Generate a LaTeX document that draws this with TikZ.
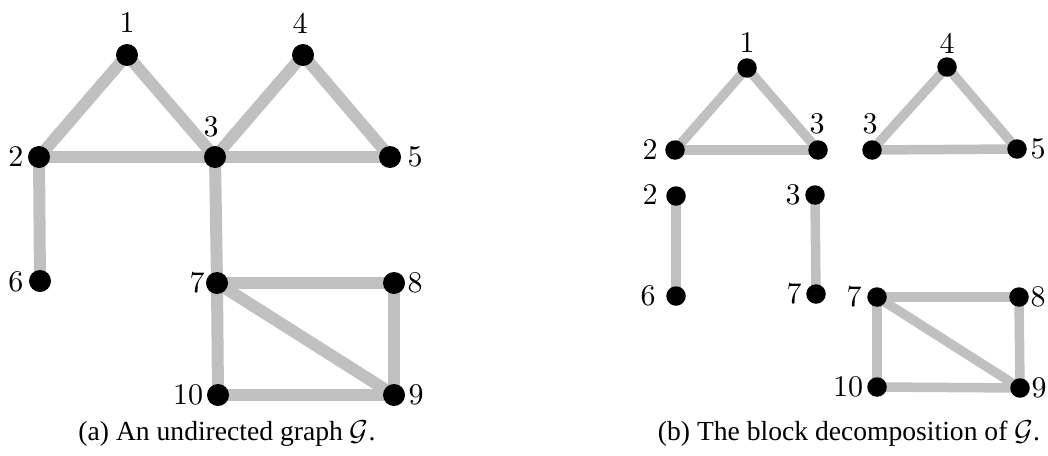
\documentclass[tikz,border=0pt]{standalone}
\usepackage{fontspec}
\usepackage{graphicx}
\usetikzlibrary{backgrounds}
\newfontfamily\capfont{Liberation Serif}
\definecolor{edgegray}{RGB}{192,192,192}
\newcommand{\vlabel}[1]{\scalebox{1.5}{\fontsize{10}{12}\selectfont #1}}
\begin{document}
\begin{tikzpicture}[x=0.5pt,y=-0.5pt,
  vtxA/.style={circle,fill=black,inner sep=0pt,minimum size=11pt},
  vtxB/.style={circle,fill=black,inner sep=0pt,minimum size=9.75pt},
  edgeA/.style={draw=edgegray,line width=6pt},
  edgeB/.style={draw=edgegray,line width=4.75pt},
  lbl/.style={inner sep=0pt},
  caption/.style={inner sep=0pt,anchor=base,font=\capfont\fontsize{13.8}{16}\selectfont}]
\useasboundingbox (0,0) rectangle (1048,455);

% ---- (a) the graph G ----
\node[vtxA] (a1) at (127,55) {};
\node[vtxA] (a2) at (39,157) {};
\node[vtxA] (a3) at (215,157) {};
\node[vtxA] (a4) at (303,55) {};
\node[vtxA] (a5) at (390,157) {};
\node[vtxA] (a6) at (40,281) {};
\node[vtxA] (a7) at (217,283) {};
\node[vtxA] (a8) at (394,283) {};
\node[vtxA] (a9) at (394,395) {};
\node[vtxA] (a10) at (218,395) {};

\node[lbl] (la1) at (127,23) {\vlabel{1}};
\node[lbl] (la2) at (16,157) {\vlabel{2}};
\node[lbl] (la3) at (211,127) {\vlabel{3}};
\node[lbl] (la4) at (300,23) {\vlabel{4}};
\node[lbl] (la5) at (415,157) {\vlabel{5}};
\node[lbl] (la6) at (16,282) {\vlabel{6}};
\node[lbl] (la7) at (197,283) {\vlabel{7}};
\node[lbl] (la8) at (415,283) {\vlabel{8}};
\node[lbl] (la9) at (416,395) {\vlabel{9}};
\node[lbl] (la10) at (188,395) {\vlabel{10}};

\begin{scope}[on background layer]
  \draw[edgeA] (a1.center) -- (a2.center);
  \draw[edgeA] (a1.center) -- (a3.center);
  \draw[edgeA] (a2.center) -- (a3.center);
  \draw[edgeA] (a3.center) -- (a4.center);
  \draw[edgeA] (a4.center) -- (a5.center);
  \draw[edgeA] (a3.center) -- (a5.center);
  \draw[edgeA] (a2.center) -- (a6.center);
  \draw[edgeA] (a3.center) -- (a7.center);
  \draw[edgeA] (a7.center) -- (a8.center);
  \draw[edgeA] (a8.center) -- (a9.center);
  \draw[edgeA] (a7.center) -- (a9.center);
  \draw[edgeA] (a7.center) -- (a10.center);
  \draw[edgeA] (a10.center) -- (a9.center);
\end{scope}

\node[caption] (capa) at (227,440) {(a) An undirected graph $\mathcal{G}$.};

% ---- (b) the blocks of G ----
\node[vtxB] (b1) at (747,68) {};
\node[vtxB] (b2) at (675,150) {};
\node[vtxB] (b3) at (818,150) {};
\node[vtxB] (c3) at (872,150) {};
\node[vtxB] (c4) at (947,67) {};
\node[vtxB] (c5) at (1017,149) {};
\node[vtxB] (d2) at (676,196) {};
\node[vtxB] (d6) at (676,296) {};
\node[vtxB] (e3) at (815,195) {};
\node[vtxB] (e7) at (816,294) {};
\node[vtxB] (f7) at (877,297) {};
\node[vtxB] (f8) at (1019,297) {};
\node[vtxB] (f9) at (1020,388) {};
\node[vtxB] (f10) at (877,387) {};

\node[lbl] (lb1) at (747,43) {\vlabel{1}};
\node[lbl] (lb2) at (650,150) {\vlabel{2}};
\node[lbl] (lb3) at (817,124) {\vlabel{3}};
\node[lbl] (lc3) at (870,124) {\vlabel{3}};
\node[lbl] (lc4) at (947,43) {\vlabel{4}};
\node[lbl] (lc5) at (1038,149) {\vlabel{5}};
\node[lbl] (ld2) at (650,195) {\vlabel{2}};
\node[lbl] (ld6) at (648,296) {\vlabel{6}};
\node[lbl] (le3) at (793,195) {\vlabel{3}};
\node[lbl] (le7) at (794,294) {\vlabel{7}};
\node[lbl] (lf7) at (854,297) {\vlabel{7}};
\node[lbl] (lf8) at (1038,297) {\vlabel{8}};
\node[lbl] (lf9) at (1039,388) {\vlabel{9}};
\node[lbl] (lf10) at (848,387) {\vlabel{10}};

\begin{scope}[on background layer]
  \draw[edgeB] (b1.center) -- (b2.center);
  \draw[edgeB] (b1.center) -- (b3.center);
  \draw[edgeB] (b2.center) -- (b3.center);
  \draw[edgeB] (c3.center) -- (c4.center);
  \draw[edgeB] (c4.center) -- (c5.center);
  \draw[edgeB] (c3.center) -- (c5.center);
  \draw[edgeB] (d2.center) -- (d6.center);
  \draw[edgeB] (e3.center) -- (e7.center);
  \draw[edgeB] (f7.center) -- (f8.center);
  \draw[edgeB] (f8.center) -- (f9.center);
  \draw[edgeB] (f7.center) -- (f9.center);
  \draw[edgeB] (f7.center) -- (f10.center);
  \draw[edgeB] (f10.center) -- (f9.center);
\end{scope}

\node[caption] (capb) at (849,440) {(b) The block decomposition of $\mathcal{G}$.};
\end{tikzpicture}
\end{document}
